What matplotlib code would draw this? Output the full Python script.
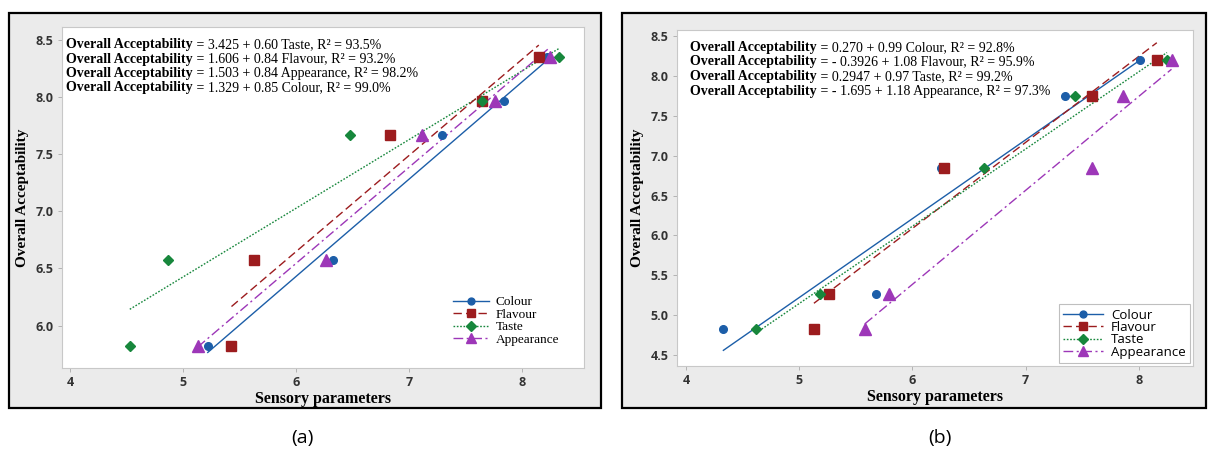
import matplotlib
matplotlib.use("Agg")
import matplotlib.pyplot as plt
import numpy as np
from matplotlib.lines import Line2D
from matplotlib.patches import Rectangle

plt.rcParams["font.family"] = ["Liberation Serif", "DejaVu Serif"]

# ---- data ----
series = ["Colour", "Flavour", "Taste", "Appearance"]

# panel (a)
oa_a = [5.82, 6.57, 7.67, 7.96, 8.35]
colour_a = [5.22, 6.33, 7.29, 7.84, 8.22]
flavour_a = [5.43, 5.63, 6.83, 7.65, 8.15]
taste_a = [4.53, 4.87, 6.48, 7.65, 8.33]
appearance_a = [5.13, 6.27, 7.12, 7.76, 8.25]
eq_names_a = ["Taste", "Flavour", "Appearance", "Colour"]
eq_icpt_a = ["3.425", "1.606", "1.503", "1.329"]
eq_slope_a = ["0.60", "0.84", "0.84", "0.85"]
eq_r2_a = ["93.5", "93.2", "98.2", "99.0"]

# panel (b)
oa_b = [4.82, 5.26, 6.85, 7.75, 8.20]
colour_b = [4.33, 5.68, 6.25, 7.35, 8.01]
flavour_b = [5.13, 5.26, 6.28, 7.59, 8.16]
taste_b = [4.62, 5.18, 6.63, 7.44, 8.25]
appearance_b = [5.58, 5.79, 7.59, 7.86, 8.29]
eq_names_b = ["Colour", "Flavour", "Taste", "Appearance"]
eq_icpt_b = ["0.270", "- 0.3926", "0.2947", "- 1.695"]
eq_slope_b = ["0.99", "1.08", "0.97", "1.18"]
eq_r2_b = ["92.8", "95.9", "99.2", "97.3"]

colors = {"Colour": "#1c5ea8", "Flavour": "#9c1c1e",
          "Taste": "#17873c", "Appearance": "#9d37b8"}
styles = {"Colour": "-", "Flavour": (0, (6, 3)),
          "Taste": (0, (1.2, 1.2)), "Appearance": (0, (7, 2.5, 1.5, 2.5))}
markers = {"Colour": ("o", 5.5), "Flavour": ("s", 6.5),
           "Taste": ("D", 5.5), "Appearance": ("^", 8)}

W, H = 1208, 450
fig = plt.figure(figsize=(W / 100, H / 100), dpi=100)


def box(x0, y0, x1, y1):
    fig.patches.append(Rectangle((x0 / W, 1 - y1 / H), (x1 - x0) / W, (y1 - y0) / H,
                                 transform=fig.transFigure, facecolor="#ebebeb",
                                 edgecolor="black", lw=1.6, zorder=-5))


def px_axes(x0, y0, x1, y1):
    return fig.add_axes([x0 / W, 1 - y1 / H, (x1 - x0) / W, (y1 - y0) / H])


def panel(ax, xs, oa, names, icpt, slope, r2, xlim, ylim, yticks, legend_sans, txt_dx, txt_dy):
    for name in series:
        x = xs[name]
        m, ms = markers[name]
        ax.plot(x, oa, ls="none", marker=m, ms=ms, color=colors[name], zorder=3)
    for name, b0, b1 in zip(names, icpt, slope):
        x = np.array([min(xs[name]), max(xs[name])])
        y = float(b0.replace(" ", "")) + float(b1) * x
        ax.plot(x, y, ls=styles[name], lw=1.0, color=colors[name], zorder=2)

    ax.set_xlim(*xlim)
    ax.set_ylim(*ylim)
    ax.set_xticks([4, 5, 6, 7, 8])
    ax.set_yticks(yticks)
    ax.set_yticklabels([f"{v:.1f}" for v in yticks])
    ax.tick_params(length=3, width=0.6, color="#aaaaaa", pad=3)
    for lab in ax.get_xticklabels() + ax.get_yticklabels():
        lab.set_family(["Open Sans", "DejaVu Sans"])
        lab.set_weight("bold")
        lab.set_size(9)
        lab.set_color("#333333")
    for sp in ax.spines.values():
        sp.set_color("#c8c8c8")
        sp.set_linewidth(0.8)

    ax.set_xlabel("Sensory parameters", fontsize=11.5, fontweight="bold", labelpad=1)
    ax.set_ylabel("Overall Acceptability", fontsize=11, fontweight="bold", labelpad=5)

    bw, bh = ax.bbox.width, ax.bbox.height
    for i, (name, b0, b1, r) in enumerate(zip(names, icpt, slope, r2)):
        t = ax.text(txt_dx / bw, 1 - (txt_dy + i * 14.5) / bh, "Overall Acceptability",
                    transform=ax.transAxes, fontsize=10, fontweight="bold",
                    va="top", ha="left")
        ax.annotate(f" = {b0} + {b1} {name}, R\u00b2 = {r}%", xy=(1, 0), xycoords=t,
                    fontsize=10, va="bottom", ha="left")

    handles = [Line2D([], [], color=colors[n], ls=styles[n], lw=1.0,
                      marker=markers[n][0], ms=markers[n][1] * 0.9) for n in series]
    if legend_sans:
        leg = ax.legend(handles, series, loc="lower right", frameon=True, fancybox=False,
                        edgecolor="#b0b0b0", handlelength=3.0, borderpad=0.35,
                        labelspacing=-0.05, handletextpad=0.6, borderaxespad=0.2,
                        prop={"family": ["Open Sans", "DejaVu Sans"], "size": 9.5},
                        bbox_to_anchor=(1.0, 0.0))
        leg.get_frame().set_linewidth(0.8)
    else:
        ax.legend(handles, series, loc="lower right", frameon=False,
                  handlelength=2.7, labelspacing=0.02, handletextpad=0.5,
                  prop={"family": ["Liberation Serif"], "size": 9.5},
                  bbox_to_anchor=(0.975, 0.03))


# panel (a)
box(9, 13, 601, 408)
ax_a = px_axes(62, 27, 584, 368)
panel(ax_a,
      {"Colour": colour_a, "Flavour": flavour_a, "Taste": taste_a, "Appearance": appearance_a},
      oa_a, eq_names_a, eq_icpt_a, eq_slope_a, eq_r2_a,
      (3.93, 8.55), (5.63, 8.61), [6.0, 6.5, 7.0, 7.5, 8.0, 8.5], False, 4, 11)

# panel (b)
box(622, 13, 1206, 408)
ax_b = px_axes(677, 30, 1193, 366)
panel(ax_b,
      {"Colour": colour_b, "Flavour": flavour_b, "Taste": taste_b, "Appearance": appearance_b},
      oa_b, eq_names_b, eq_icpt_b, eq_slope_b, eq_r2_b,
      (3.92, 8.48), (4.36, 8.58), [4.5, 5.0, 5.5, 6.0, 6.5, 7.0, 7.5, 8.0, 8.5], True, 13, 11)

fig.text(302 / W, 1 - 438 / H, "(a)", ha="center", va="center", fontsize=14,
         family=["Open Sans", "DejaVu Sans"])
fig.text(940 / W, 1 - 438 / H, "(b)", ha="center", va="center", fontsize=14,
         family=["Open Sans", "DejaVu Sans"])

fig.savefig("out.png", dpi=100)
